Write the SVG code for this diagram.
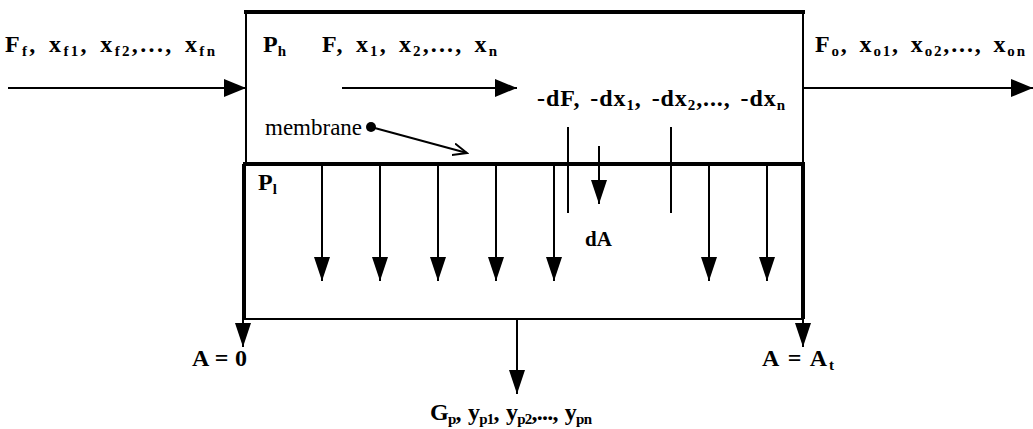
<svg xmlns="http://www.w3.org/2000/svg" width="1033" height="429" viewBox="0 0 1033 429">
<style>
text{font-family:"Liberation Serif","Times New Roman",serif;font-weight:bold;font-size:24px;fill:#000;word-spacing:3px}
.s{font-size:15px}
.thin{stroke:#000;stroke-width:2;fill:none}
.thick{stroke:#000;stroke-width:4;fill:none}
</style>
<defs>
<marker id="ah" markerUnits="userSpaceOnUse" markerWidth="24" markerHeight="18" refX="22" refY="9" orient="auto">
<path d="M0,0 L22,9 L0,18 Z" fill="#000"/>
</marker>
<marker id="av" markerUnits="userSpaceOnUse" markerWidth="26" markerHeight="16" refX="24" refY="8" orient="auto">
<path d="M0,0 L24,8 L0,16 Z" fill="#000"/>
</marker>
<marker id="open" markerUnits="userSpaceOnUse" markerWidth="16" markerHeight="14" refX="14" refY="7" orient="auto">
<path d="M0,1 L14,7 L0,13" fill="none" stroke="#000" stroke-width="2"/>
</marker>
</defs>
<rect width="1033" height="429" fill="#fff"/>
<g id="module">
<line class="thin" x1="246" y1="12" x2="246" y2="164"/>
<line class="thin" x1="803" y1="12" x2="803" y2="164"/>
<line class="thick" x1="244" y1="12" x2="805" y2="12"/>
<line class="thick" x1="243" y1="164" x2="805" y2="164"/>
<line class="thick" x1="244" y1="164" x2="244" y2="319"/>
<line class="thick" x1="803" y1="164" x2="803" y2="319"/>
<line class="thin" x1="243" y1="319" x2="804" y2="319"/>
</g>
<g id="connectors">
<line class="thin" x1="8" y1="88" x2="246" y2="88" marker-end="url(#ah)"/>
<line class="thin" x1="803" y1="88" x2="1033" y2="88" marker-end="url(#ah)"/>
<line class="thin" x1="342" y1="88" x2="517" y2="88" marker-end="url(#ah)"/>
<line class="thin" x1="322" y1="166" x2="322" y2="281" marker-end="url(#av)"/>
<line class="thin" x1="380" y1="166" x2="380" y2="281" marker-end="url(#av)"/>
<line class="thin" x1="438" y1="166" x2="438" y2="281" marker-end="url(#av)"/>
<line class="thin" x1="496" y1="166" x2="496" y2="281" marker-end="url(#av)"/>
<line class="thin" x1="554" y1="166" x2="554" y2="281" marker-end="url(#av)"/>
<line class="thin" x1="709" y1="166" x2="709" y2="281" marker-end="url(#av)"/>
<line class="thin" x1="767" y1="166" x2="767" y2="281" marker-end="url(#av)"/>
<line class="thin" x1="599" y1="146" x2="599" y2="204" marker-end="url(#av)"/>
<line class="thin" x1="568" y1="127" x2="568" y2="213"/>
<line class="thin" x1="671" y1="127" x2="671" y2="213"/>
<circle cx="371" cy="127" r="5" fill="#000"/>
<line class="thin" x1="371" y1="127" x2="467" y2="153" marker-end="url(#open)"/>
<line class="thin" x1="243" y1="319" x2="243" y2="347" marker-end="url(#av)"/>
<line class="thin" x1="803" y1="319" x2="803" y2="347" marker-end="url(#av)"/>
<line class="thin" x1="517" y1="319" x2="517" y2="394" marker-end="url(#av)"/>
</g>
<g id="labels">
<text x="5" y="52" textLength="210" lengthAdjust="spacing">F<tspan class="s" dy="4">f</tspan><tspan dy="-4">, x</tspan><tspan class="s" dy="4">f1</tspan><tspan dy="-4">, x</tspan><tspan class="s" dy="4">f2</tspan><tspan dy="-4">,..., x</tspan><tspan class="s" dy="4">fn</tspan></text>
<text x="263" y="52">P<tspan class="s" dy="4">h</tspan></text>
<text x="322" y="52" textLength="175" lengthAdjust="spacing">F, x<tspan class="s" dy="4">1</tspan><tspan dy="-4">, x</tspan><tspan class="s" dy="4">2</tspan><tspan dy="-4">,..., x</tspan><tspan class="s" dy="4">n</tspan></text>
<text x="815" y="52" textLength="210" lengthAdjust="spacing">F<tspan class="s" dy="4">o</tspan><tspan dy="-4">, x</tspan><tspan class="s" dy="4">o1</tspan><tspan dy="-4">, x</tspan><tspan class="s" dy="4">o2</tspan><tspan dy="-4">,..., x</tspan><tspan class="s" dy="4">on</tspan></text>
<text x="537" y="106" textLength="248" lengthAdjust="spacing">-dF, -dx<tspan class="s" dy="4">1</tspan><tspan dy="-4">, -dx</tspan><tspan class="s" dy="4">2</tspan><tspan dy="-4">,..., -dx</tspan><tspan class="s" dy="4">n</tspan></text>
<text x="265" y="135" style="font-weight:normal;font-size:23px;word-spacing:0">membrane</text>
<text x="258" y="190">P<tspan class="s" dy="4">l</tspan></text>
<text x="585" y="246" style="font-size:21px">dA</text>
<text x="192" y="366" textLength="55" lengthAdjust="spacing" style="word-spacing:0">A = 0</text>
<text x="762" y="366" textLength="72" lengthAdjust="spacing" style="word-spacing:0">A = A<tspan class="s" dy="4">t</tspan></text>
<text x="430" y="420" textLength="162" lengthAdjust="spacing" style="word-spacing:2px">G<tspan class="s" dy="4">p</tspan><tspan dy="-4">, y</tspan><tspan class="s" dy="4">p1</tspan><tspan dy="-4">, y</tspan><tspan class="s" dy="4">p2</tspan><tspan dy="-4">,..., y</tspan><tspan class="s" dy="4">pn</tspan></text>
</g>
</svg>
